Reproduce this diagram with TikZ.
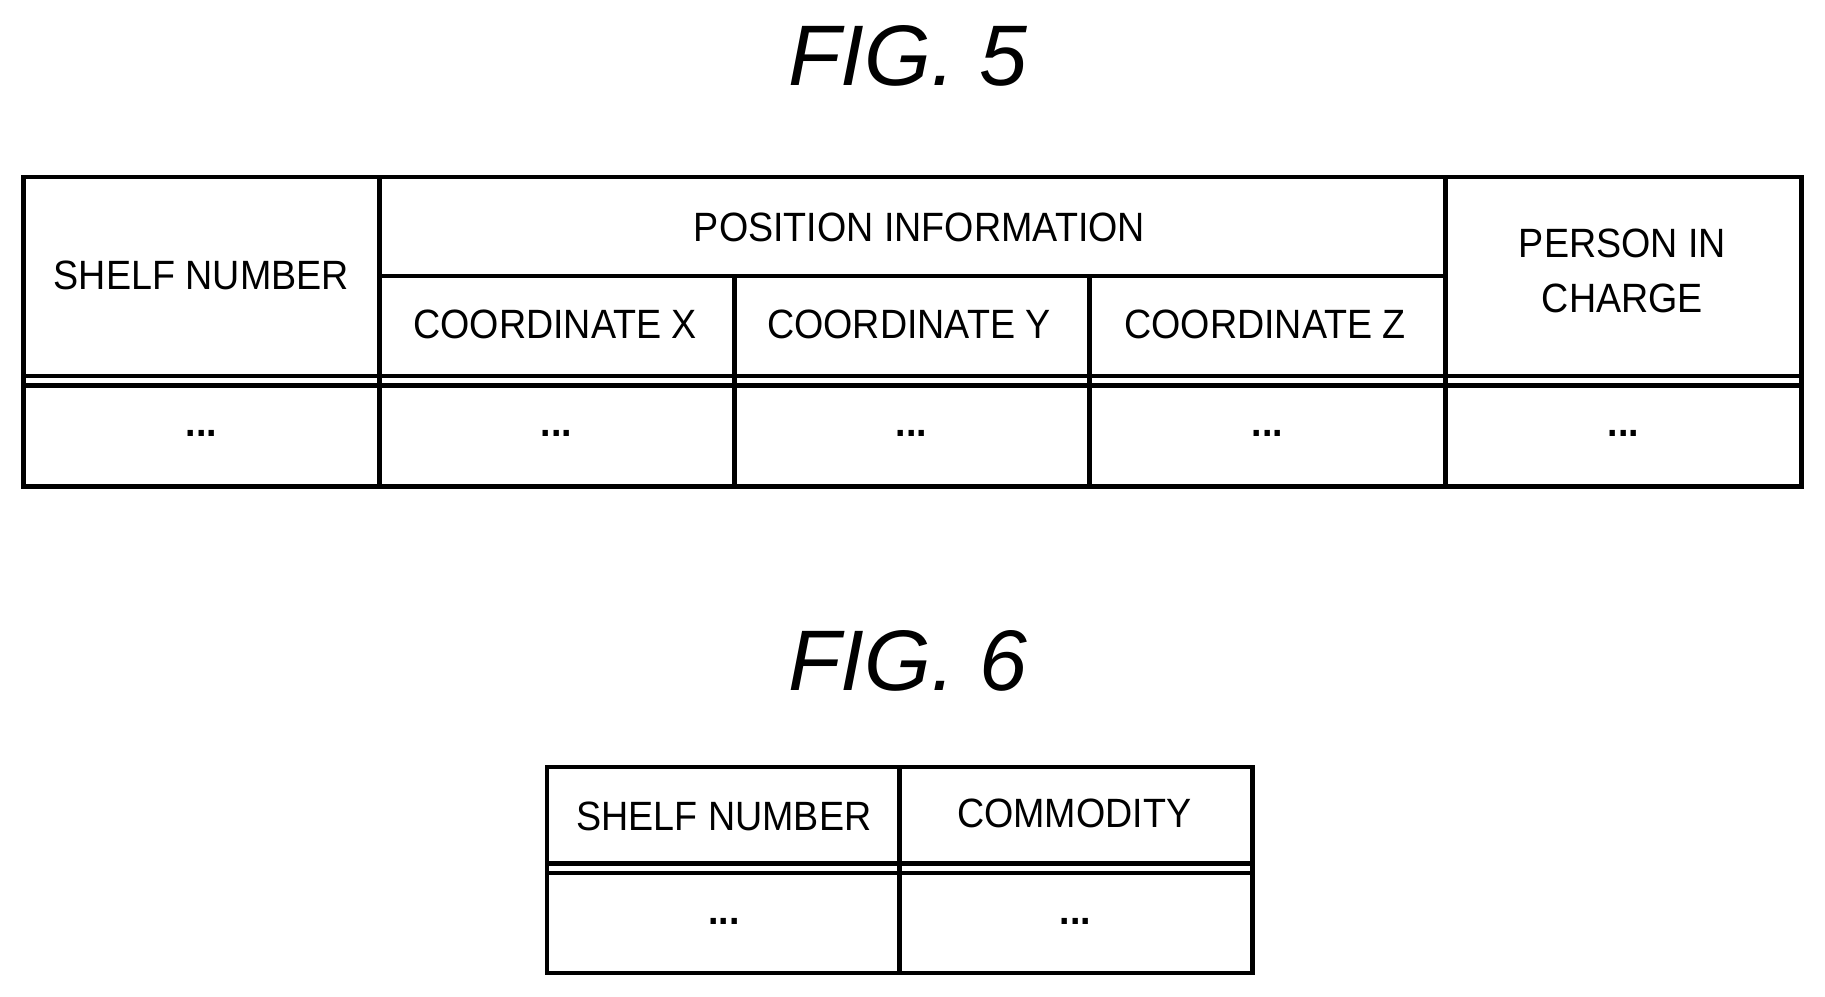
\documentclass[tikz,border=0pt]{standalone}
\usepackage{fontspec}
\setmainfont{Liberation Sans}
\usetikzlibrary{positioning}
\begin{document}
\begin{tikzpicture}[x=0.01cm, y=-0.01cm,
    grid/.style = {draw, line width=1.1pt},
    cell/.style = {font=\fontsize{10}{13.5}\selectfont, align=center, xscale=0.92},
    title/.style = {font=\fontsize{21}{25}\selectfont\itshape}]
    \useasboundingbox (0,0) rectangle (1568,856);
    % FIG. 5
    \node [title] (fig5) at (780,48) {FIG. 5};
    \draw [grid] (20,152) rectangle (1548,418);
    \draw [grid] (20,323) -- (1548,323);
    \draw [grid] (20,331) -- (1548,331);
    \foreach \x in {326,1242} \draw [grid] (\x,152) -- (\x,418);
    \foreach \x in {631,936} \draw [grid] (\x,237) -- (\x,418);
    \draw [grid] (326,237) -- (1242,237);
    \node [cell] (shelf) at (173,237) {SHELF NUMBER};
    \node [cell] (pos) at (790,195) {POSITION INFORMATION};
    \node [cell] (cx) at (477,279) {COORDINATE X};
    \node [cell] (cy) at (781,279) {COORDINATE Y};
    \node [cell] (cz) at (1087,279) {COORDINATE Z};
    \node [cell] (person) at (1394,233) {PERSON IN\\CHARGE};
    \foreach \x/\n in {173/a,478/b,783/c,1089/d,1395/e}
        \node [cell] (dots\n) at (\x,372) {\textbf{...}};
    % FIG. 6
    \node [title] (fig6) at (780,568) {FIG. 6};
    \draw [grid] (470,659) rectangle (1076,836);
    \draw [grid] (470,742) -- (1076,742);
    \draw [grid] (470,750) -- (1076,750);
    \draw [grid] (773,659) -- (773,836);
    \node [cell] (shelf2) at (622,701) {SHELF NUMBER};
    \node [cell] (comm) at (923,699) {COMMODITY};
    \node [cell] (dotsf) at (622,792) {\textbf{...}};
    \node [cell] (dotsg) at (924,792) {\textbf{...}};
\end{tikzpicture}
\end{document}
